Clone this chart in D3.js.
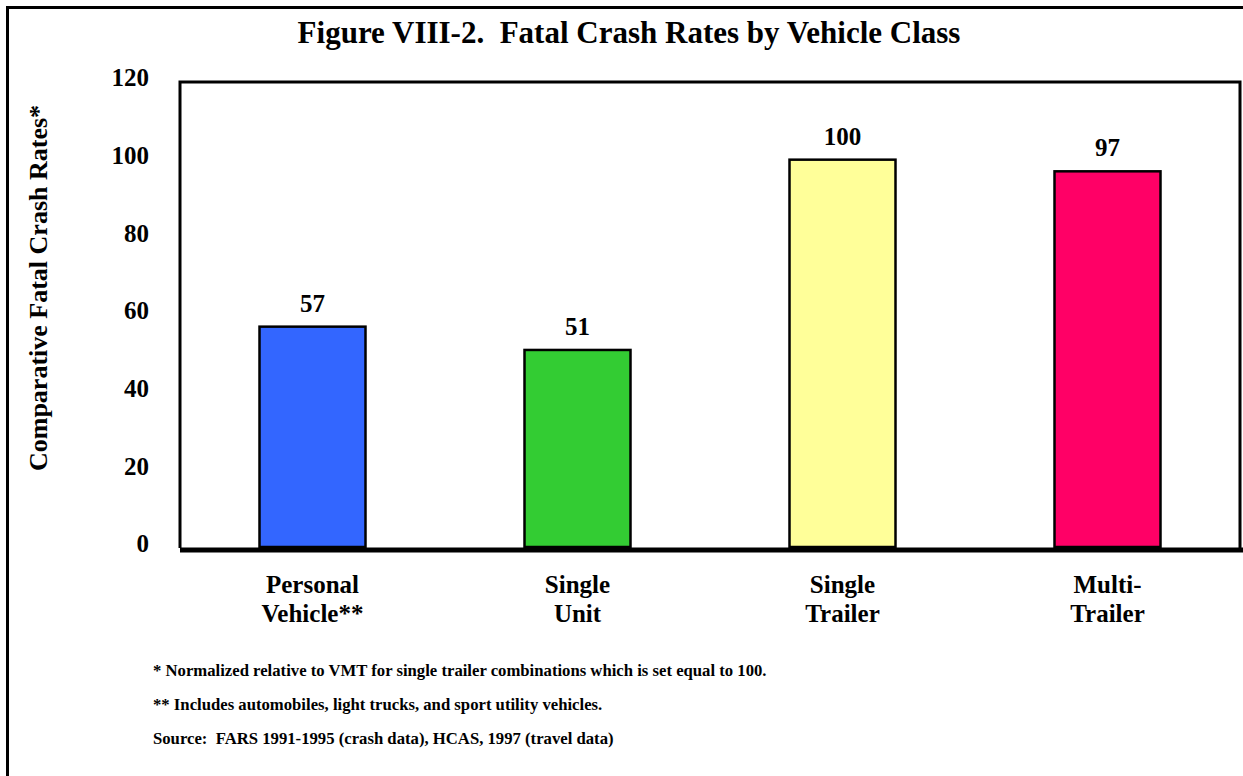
<!DOCTYPE html>
<html>
<head>
<meta charset="utf-8">
<script src="https://cdn.jsdelivr.net/npm/d3@7"></script>
<style>
  body { margin: 0; background: #fff; }
  svg text { font-family: "Liberation Serif", "Times New Roman", serif; font-weight: bold; fill: #000; }
</style>
</head>
<body>
<div id="chart"></div>
<script>
var categories = [["Personal", "Vehicle**"], ["Single", "Unit"], ["Single", "Trailer"], ["Multi-", "Trailer"]];
var values = [57, 51, 100, 97];
var colors = ["#3366ff", "#33cc33", "#ffff99", "#ff0066"];
var yTicks = [0, 20, 40, 60, 80, 100, 120];
var notes = ["* Normalized relative to VMT for single trailer combinations which is set equal to 100.",
    "** Includes automobiles, light trucks, and sport utility vehicles.",
    "Source:  FARS 1991-1995 (crash data), HCAS, 1997 (travel data)"];

var W = 1243, H = 776;
var svg = d3.select("#chart").append("svg").attr("width", W).attr("height", H);

// outer frame
svg.append("rect").attr("x", 7.5).attr("y", 7.5).attr("width", W).attr("height", H)
    .attr("fill", "none").attr("stroke", "#000").attr("stroke-width", 3);

var pLeft = 180, pRight = 1240, pTop = 82, pBottom = 548;

var x = d3.scaleBand().domain(d3.range(values.length)).range([pLeft, pRight]).paddingInner(0.6).paddingOuter(0.3);
var y = d3.scaleLinear().domain([0, 120]).range([pBottom, pTop]);

// plot frame
svg.append("path")
    .attr("d", "M" + pLeft + "," + pBottom + "V" + pTop + "H" + pRight + "V" + pBottom)
    .attr("fill", "none").attr("stroke", "#000").attr("stroke-width", 3);

svg.selectAll(".bar").data(values).enter().append("rect")
    .attr("class", "bar")
    .attr("x", function(d, i) { return x(i); })
    .attr("width", x.bandwidth())
    .attr("y", function(d) { return y(d); })
    .attr("height", function(d) { return y(0) - 1 - y(d); })
    .attr("fill", function(d, i) { return colors[i]; })
    .attr("stroke", "#000").attr("stroke-width", 2.5);

// thick baseline
svg.append("line").attr("x1", pLeft).attr("x2", W).attr("y1", pBottom + 2).attr("y2", pBottom + 2)
    .attr("stroke", "#000").attr("stroke-width", 5);

// value labels
svg.selectAll(".val").data(values).enter().append("text")
    .attr("x", function(d, i) { return x(i) + x.bandwidth() / 2; })
    .attr("y", function(d) { return y(d) - 15; })
    .attr("text-anchor", "middle").attr("font-size", 25)
    .text(function(d) { return d; });

// y axis tick labels
var yAxis = d3.axisLeft(y).tickValues(yTicks).tickSize(0).tickPadding(0);
var gy = svg.append("g").attr("transform", "translate(149,0)").call(yAxis);
gy.select(".domain").remove();
gy.selectAll("text").attr("font-size", 25).attr("dy", "0.15em")
    .style("font-family", "Liberation Serif").style("font-weight", "bold").style("fill", "#000");

// x labels
var xl = svg.selectAll(".xl").data(categories).enter().append("text")
    .attr("text-anchor", "middle").attr("font-size", 25)
    .attr("transform", function(d, i) { return "translate(" + (x(i) + x.bandwidth() / 2) + ",593)"; });
xl.append("tspan").attr("x", 0).attr("y", 0).text(function(d) { return d[0]; });
xl.append("tspan").attr("x", 0).attr("y", 29).text(function(d) { return d[1]; });

// title
svg.append("text").attr("x", 629).attr("y", 43).attr("text-anchor", "middle")
    .attr("font-size", 31).text("Figure VIII-2.  Fatal Crash Rates by Vehicle Class")
    .style("white-space", "pre");

// y axis title
svg.append("text").attr("transform", "translate(47,288) rotate(-90)")
    .attr("text-anchor", "middle").attr("font-size", 26)
    .text("Comparative Fatal Crash Rates*");

// footnotes
svg.selectAll(".note").data(notes).enter().append("text")
    .attr("x", 153).attr("y", function(d, i) { return 676 + i * 34; })
    .attr("font-size", 16.7).style("white-space", "pre")
    .text(function(d) { return d; });
</script>
</body>
</html>
